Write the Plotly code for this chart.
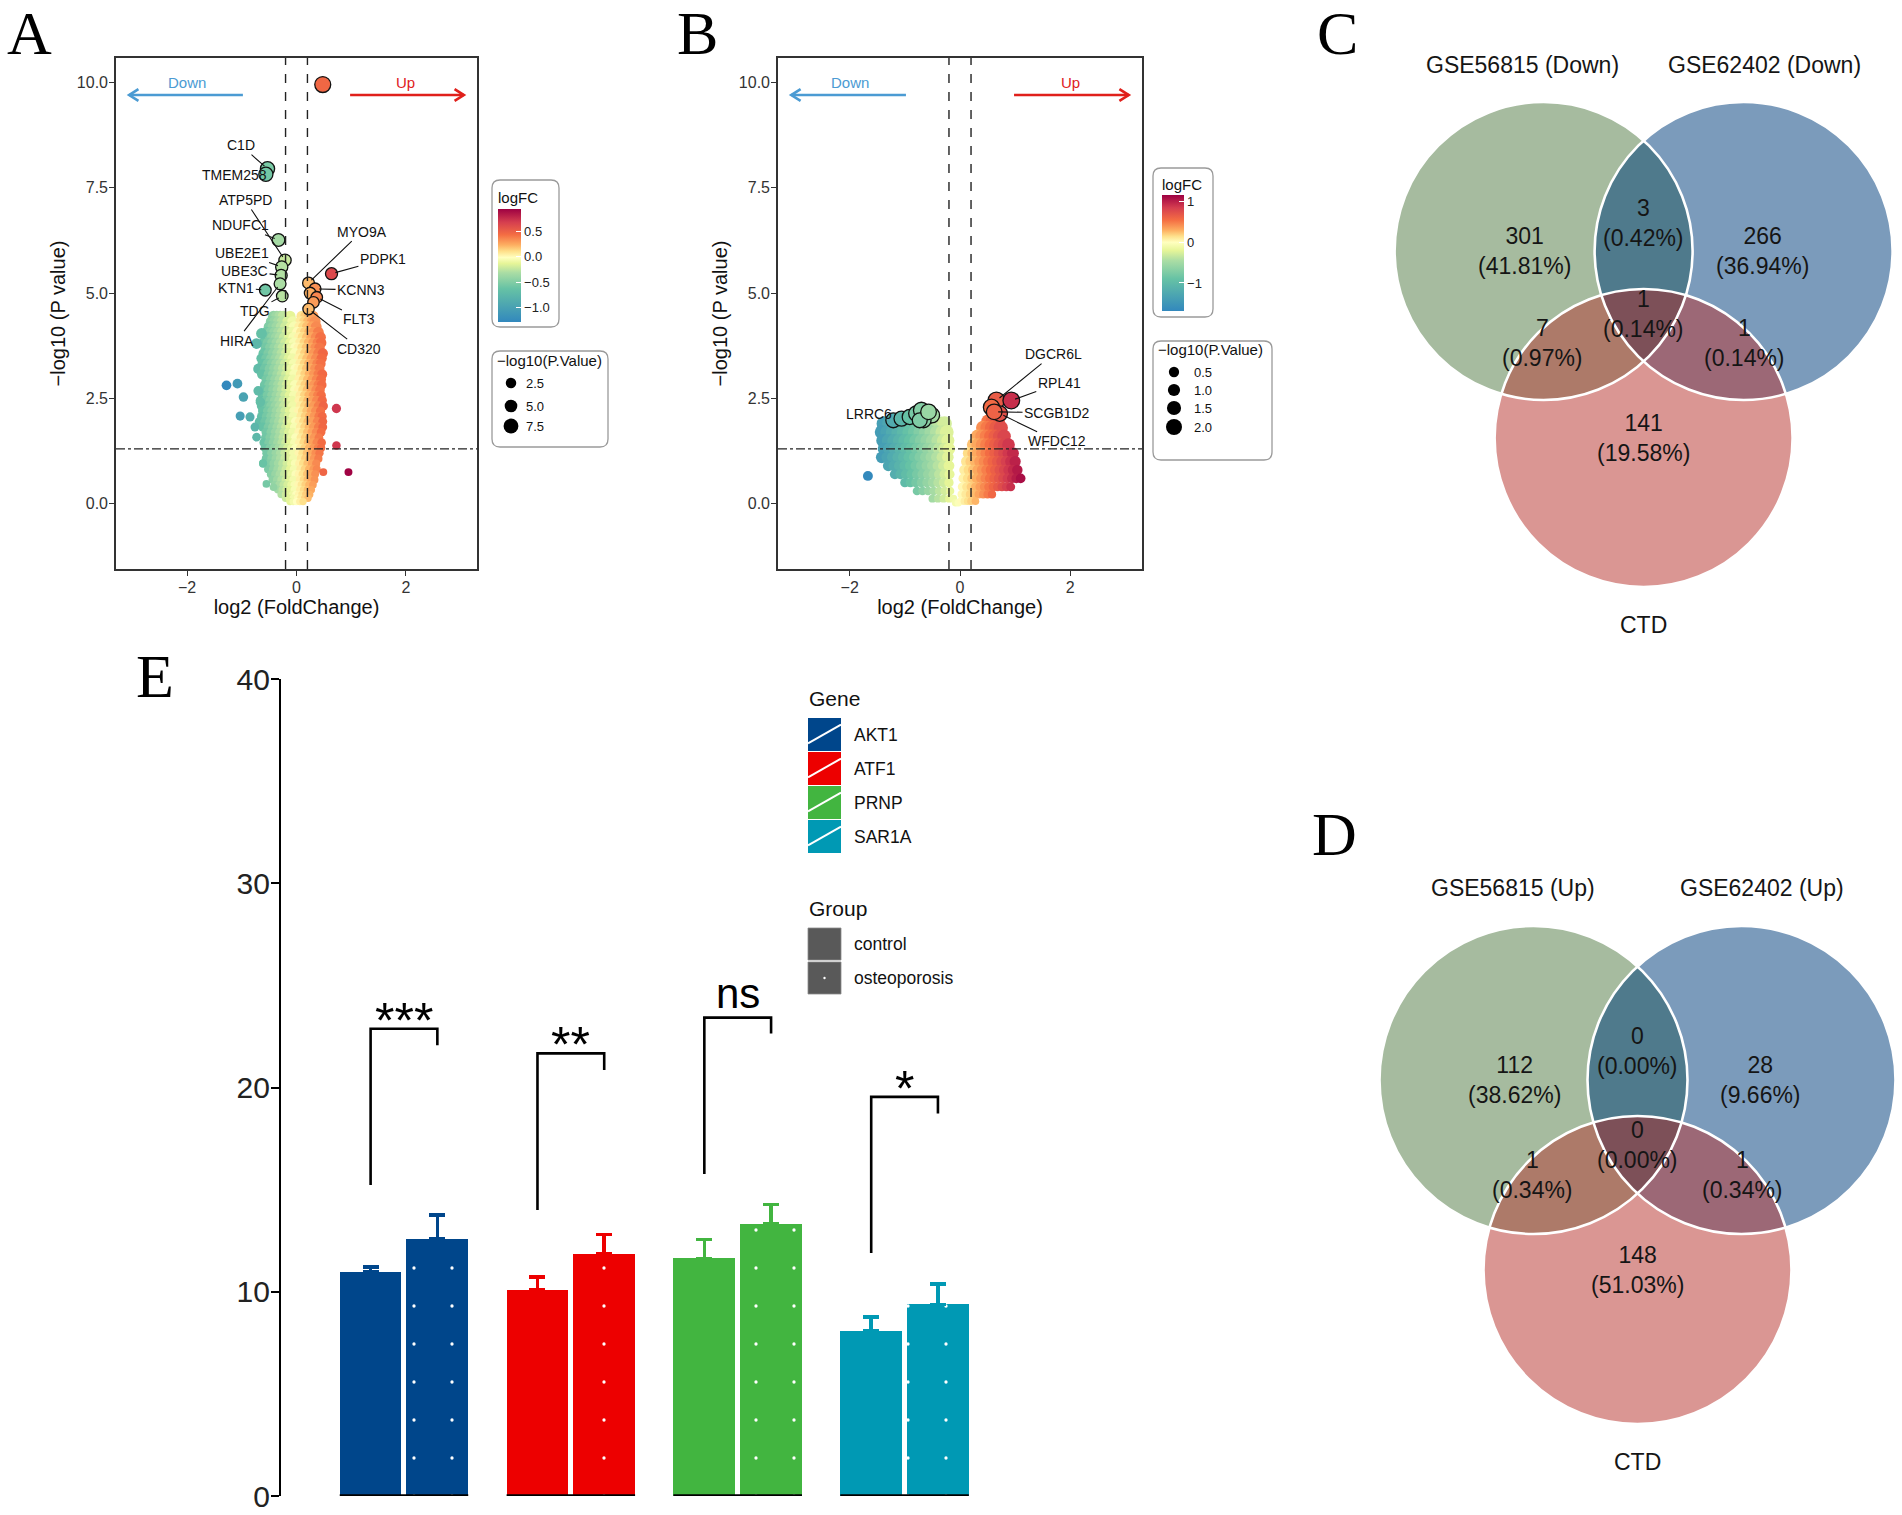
import numpy as np
import plotly.graph_objects as go

W, H = 1902, 1515
FONT = "Liberation Sans, Arial, sans-serif"
SERIF = "Liberation Serif, Times New Roman, serif"

# ======================= DATA =======================
# ---- Panel A volcano (logFC, -log10 P) : background points read row by row ----
a_levels = [4.45, 4.32, 4.2, 4.07, 3.95, 3.82, 3.7, 3.57, 3.45, 3.32, 3.2, 3.07, 2.95, 2.82, 2.7, 2.57,
            2.45, 2.32, 2.2, 2.07, 1.95, 1.82, 1.7, 1.57, 1.45, 1.32, 1.2, 1.07, 0.95, 0.82, 0.7, 0.57,
            0.45, 0.33, 0.22, 0.13, 0.05]
a_level_fc = [
    [-0.42, -0.36, -0.30, -0.24, -0.12, 0.10, 0.17, 0.24, 0.30],
    [-0.46, -0.40, -0.33, -0.26, -0.16, -0.07, 0.08, 0.15, 0.22, 0.29, 0.34],
    [-0.50, -0.43, -0.36, -0.28, -0.20, -0.10, -0.04, 0.06, 0.13, 0.20, 0.28, 0.36],
    [-0.55, -0.47, -0.40, -0.33, -0.26, -0.17, -0.08, 0.02, 0.09, 0.16, 0.24, 0.32, 0.40],
    [-0.52, -0.44, -0.37, -0.30, -0.22, -0.13, -0.05, 0.05, 0.12, 0.20, 0.28, 0.36, 0.44],
    [-0.60, -0.52, -0.44, -0.36, -0.28, -0.20, -0.11, -0.04, 0.07, 0.15, 0.23, 0.31, 0.39, 0.45],
    [-0.56, -0.48, -0.40, -0.32, -0.25, -0.16, -0.08, -0.02, 0.04, 0.11, 0.19, 0.27, 0.35, 0.42],
    [-0.60, -0.51, -0.43, -0.35, -0.27, -0.19, -0.11, -0.03, 0.08, 0.16, 0.24, 0.32, 0.40, 0.48],
    [-0.64, -0.55, -0.46, -0.38, -0.30, -0.22, -0.14, -0.07, 0.05, 0.12, 0.20, 0.28, 0.36, 0.46],
    [-0.62, -0.53, -0.45, -0.37, -0.29, -0.21, -0.13, -0.05, 0.07, 0.15, 0.23, 0.30, 0.38, 0.44],
    [-0.70, -0.58, -0.49, -0.41, -0.33, -0.25, -0.17, -0.09, -0.02, 0.04, 0.11, 0.19, 0.26, 0.34, 0.42],
    [-0.63, -0.51, -0.43, -0.35, -0.27, -0.19, -0.11, -0.04, 0.08, 0.16, 0.24, 0.32, 0.40, 0.47],
    [-0.55, -0.47, -0.39, -0.31, -0.23, -0.15, -0.07, 0.05, 0.13, 0.21, 0.29, 0.37, 0.45],
    [-0.58, -0.50, -0.42, -0.34, -0.26, -0.18, -0.10, -0.03, 0.08, 0.16, 0.24, 0.32, 0.40, 0.46],
    [-0.60, -0.51, -0.43, -0.35, -0.27, -0.19, -0.11, -0.03, 0.04, 0.12, 0.20, 0.28, 0.36, 0.43],
    [-0.62, -0.53, -0.45, -0.37, -0.29, -0.21, -0.13, -0.05, 0.07, 0.15, 0.23, 0.31, 0.39, 0.45],
    [-0.66, -0.56, -0.48, -0.40, -0.32, -0.24, -0.16, -0.08, 0.05, 0.13, 0.21, 0.29, 0.37, 0.47],
    [-0.64, -0.55, -0.47, -0.39, -0.31, -0.23, -0.15, -0.07, 0.07, 0.15, 0.23, 0.31, 0.40, 0.49],
    [-0.62, -0.53, -0.45, -0.37, -0.29, -0.21, -0.13, -0.05, 0.04, 0.11, 0.19, 0.27, 0.35, 0.44],
    [-0.64, -0.55, -0.47, -0.39, -0.31, -0.23, -0.15, -0.06, 0.08, 0.16, 0.24, 0.32, 0.41, 0.47],
    [-0.68, -0.58, -0.49, -0.41, -0.33, -0.25, -0.17, -0.09, -0.02, 0.05, 0.13, 0.21, 0.29, 0.38, 0.48],
    [-0.62, -0.52, -0.44, -0.36, -0.28, -0.20, -0.12, -0.04, 0.07, 0.15, 0.23, 0.31, 0.40, 0.48],
    [-0.56, -0.47, -0.39, -0.31, -0.23, -0.15, -0.07, 0.04, 0.12, 0.20, 0.28, 0.36, 0.45],
    [-0.57, -0.49, -0.41, -0.33, -0.25, -0.17, -0.09, -0.02, 0.08, 0.16, 0.24, 0.32, 0.41],
    [-0.60, -0.51, -0.43, -0.35, -0.27, -0.20, -0.12, -0.04, 0.05, 0.13, 0.21, 0.29, 0.37, 0.46],
    [-0.58, -0.49, -0.41, -0.33, -0.25, -0.17, -0.09, -0.02, 0.07, 0.15, 0.23, 0.31, 0.39, 0.45],
    [-0.55, -0.46, -0.38, -0.30, -0.22, -0.14, -0.06, 0.04, 0.11, 0.19, 0.27, 0.35, 0.42],
    [-0.56, -0.46, -0.38, -0.30, -0.22, -0.14, -0.06, 0.08, 0.16, 0.24, 0.32, 0.40],
    [-0.61, -0.50, -0.42, -0.34, -0.26, -0.18, -0.10, -0.03, 0.05, 0.12, 0.20, 0.28, 0.36],
    [-0.52, -0.43, -0.35, -0.27, -0.20, -0.12, -0.05, 0.07, 0.15, 0.23, 0.31, 0.37],
    [-0.47, -0.39, -0.31, -0.23, -0.16, -0.09, -0.02, 0.04, 0.11, 0.19, 0.27, 0.34],
    [-0.44, -0.36, -0.28, -0.20, -0.13, -0.06, 0.06, 0.13, 0.20, 0.27, 0.33],
    [-0.40, -0.32, -0.24, -0.17, -0.10, -0.04, 0.03, 0.09, 0.16, 0.23, 0.30],
    [-0.34, -0.26, -0.19, -0.12, -0.04, 0.06, 0.13, 0.20, 0.27],
    [-0.28, -0.20, -0.13, -0.07, -0.01, 0.04, 0.10, 0.17, 0.24],
    [-0.20, -0.13, -0.06, 0.02, 0.08, 0.15, 0.21],
    [-0.12, -0.06, 0.00, 0.06, 0.12],
]
a_out_fc = [-1.28, -1.08, -0.97, -0.70, -1.03, -0.85, -0.76, -0.55, -0.42, 0.73, 0.73, 0.95, 0.49, -0.73, -0.66, -0.73, -0.61, -0.64]
a_out_p = [2.81, 2.85, 2.53, 2.68, 2.08, 2.06, 1.82, 0.47, 0.39, 2.26, 1.38, 0.75, 0.75, 3.80, 2.41, 1.58, 0.96, 4.04]
a_hi_gene = ["", "C1D", "TMEM258", "NDUFC1", "ATP5PD", "UBE2E1", "UBE3C", "KTN1", "HIRA", "TDG",
             "PDPK1", "MYO9A", "KCNN3", "", "FLT3", "", "CD320"]
a_hi_fc = [0.48, -0.53, -0.56, -0.33, -0.21, -0.27, -0.28, -0.57, -0.30, -0.26,
           0.64, 0.22, 0.34, 0.25, 0.37, 0.31, 0.22]
a_hi_p = [9.95, 7.95, 7.82, 6.26, 5.78, 5.62, 5.42, 5.07, 5.22, 4.93,
          5.46, 5.24, 5.10, 5.00, 4.90, 4.78, 4.62]

# ---- Panel B volcano ----
b_left_levels = [1.9, 1.7, 1.5, 1.3, 1.1, 0.9, 0.7, 0.5, 0.3, 0.12, 0.02]
b_left_fc = [
    [-1.38, -1.28, -1.18, -1.08, -0.98, -0.88, -0.78, -0.68, -0.58, -0.48, -0.38, -0.28],
    [-1.42, -1.32, -1.22, -1.12, -1.02, -0.92, -0.82, -0.72, -0.62, -0.52, -0.42, -0.32, -0.24],
    [-1.40, -1.30, -1.20, -1.10, -1.00, -0.90, -0.80, -0.70, -0.60, -0.50, -0.40, -0.30, -0.22],
    [-1.38, -1.28, -1.18, -1.08, -0.98, -0.88, -0.78, -0.68, -0.58, -0.48, -0.38, -0.28, -0.20],
    [-1.42, -1.32, -1.22, -1.12, -1.02, -0.92, -0.82, -0.72, -0.62, -0.52, -0.42, -0.32, -0.22],
    [-1.30, -1.20, -1.10, -1.00, -0.90, -0.80, -0.70, -0.60, -0.50, -0.40, -0.30, -0.20],
    [-1.18, -1.08, -0.98, -0.88, -0.78, -0.68, -0.58, -0.48, -0.38, -0.28, -0.19],
    [-1.00, -0.90, -0.80, -0.70, -0.60, -0.50, -0.40, -0.30, -0.20],
    [-0.78, -0.68, -0.58, -0.48, -0.38, -0.28, -0.18],
    [-0.50, -0.40, -0.30, -0.20, -0.12],
    [-0.08, -0.03],
]
b_right_levels = [1.95, 1.8, 1.6, 1.4, 1.2, 1.0, 0.8, 0.6, 0.4, 0.22, 0.06]
b_right_fc = [
    [0.52, 0.60, 0.68],
    [0.42, 0.50, 0.58, 0.66, 0.74],
    [0.32, 0.40, 0.48, 0.56, 0.64, 0.72, 0.80],
    [0.24, 0.32, 0.40, 0.48, 0.56, 0.64, 0.72, 0.80, 0.88],
    [0.16, 0.24, 0.32, 0.40, 0.48, 0.56, 0.64, 0.72, 0.80, 0.88, 0.96],
    [0.12, 0.20, 0.28, 0.36, 0.44, 0.52, 0.60, 0.68, 0.76, 0.84, 0.92, 1.00],
    [0.08, 0.16, 0.24, 0.32, 0.40, 0.48, 0.56, 0.64, 0.72, 0.80, 0.88, 0.96, 1.04],
    [0.06, 0.14, 0.22, 0.30, 0.38, 0.46, 0.54, 0.62, 0.70, 0.78, 0.86, 0.94, 1.02, 1.10],
    [0.04, 0.12, 0.20, 0.28, 0.36, 0.44, 0.52, 0.60, 0.68, 0.76, 0.84, 0.92],
    [0.03, 0.10, 0.18, 0.26, 0.34, 0.42, 0.50, 0.58],
    [0.02, 0.08, 0.14, 0.20, 0.28],
]
b_out_fc = [-1.67]
b_out_p = [0.66]
b_hi_gene = ["LRRC6", "", "", "", "", "", "", "", "", "", "DGCR6L", "RPL41", "", "WFDC12", "SCGB1D2"]
b_hi_fc = [-1.21, -1.06, -0.91, -0.79, -0.70, -0.60, -0.51, -0.66, -0.73, -0.57, 0.66, 0.93, 0.57, 0.72, 0.62]
b_hi_p = [1.98, 2.02, 2.06, 2.14, 2.22, 2.06, 2.10, 1.98, 1.98, 2.18, 2.45, 2.45, 2.29, 2.14, 2.18]

fc_cut = 0.2
p_cut = 0.05

# ---- Venn diagrams (regions: A only, B only, C only, AB, AC, BC, ABC) ----
c_sets = ["GSE56815 (Down)", "GSE62402 (Down)", "CTD"]
c_counts = [301, 266, 141, 3, 7, 1, 1]
d_sets = ["GSE56815 (Up)", "GSE62402 (Up)", "CTD"]
d_counts = [112, 28, 148, 0, 1, 1, 0]

# ---- Panel E bars ----
genes = ["AKT1", "ATF1", "PRNP", "SAR1A"]
groups = ["control", "osteoporosis"]
ctrl_mean = [10.97, 10.10, 11.64, 8.09]
ctrl_err = [0.23, 0.63, 0.92, 0.67]
osteo_mean = [12.59, 11.86, 13.34, 9.38]
osteo_err = [1.16, 0.94, 0.92, 1.00]
sig_labels = ["***", "**", "ns", "*"]
br_left = [15.23, 14.00, 15.77, 11.90]
br_top = [22.88, 21.67, 23.42, 19.54]
br_right = [22.07, 20.86, 22.64, 18.73]

# ======================= LAYOUT HELPERS =======================
def xd(a, b):
    return [a / W, b / W]

def yd(top, bot):
    return [1 - bot / H, 1 - top / H]

def make_cs(cmin, cmax, stops):
    return [[(v - cmin) / (cmax - cmin), c] for v, c in stops]

A_CMIN, A_CMAX = -1.28, 0.96
B_CMIN, B_CMAX = -1.69, 1.165
cs_a = make_cs(A_CMIN, A_CMAX, [(-1.28, "#3288bd"), (-0.62, "#66c2a5"), (-0.30, "#abdda4"), (-0.12, "#e6f598"),
                                (0.0, "#ffffbf"), (0.12, "#fee08b"), (0.25, "#fdae61"), (0.45, "#f46d43"),
                                (0.70, "#d53e4f"), (0.96, "#9e0142")])
cs_b = make_cs(B_CMIN, B_CMAX, [(-1.69, "#3288bd"), (-0.9, "#66c2a5"), (-0.45, "#abdda4"), (-0.2, "#e6f598"),
                                (0.0, "#ffffbf"), (0.15, "#fee08b"), (0.3, "#fdae61"), (0.55, "#f46d43"),
                                (0.85, "#d53e4f"), (1.165, "#9e0142")])

def size_a(p):
    return 7.3 + 0.87 * p

def size_b(p):
    return 7.4 + 3.8 * p

fig = go.Figure()
annotations = []
shapes = []

# ======================= VOLCANO PANELS =======================
def flatten(levels, rows):
    xs, ys = [], []
    for yv, row in zip(levels, rows):
        xs += list(row)
        ys += [yv] * len(row)
    return xs, ys

def volcano(xa, ya, ca, bg_fc, bg_p, hi_fc, hi_p, hi_gene, label_xy, sizefn):
    fig.add_trace(go.Scatter(
        x=bg_fc, y=bg_p, mode="markers", xaxis=xa, yaxis=ya, showlegend=False, hoverinfo="skip",
        marker=dict(color=bg_fc, coloraxis=ca, size=[sizefn(p) for p in bg_p], line=dict(width=0), opacity=1)))
    fig.add_trace(go.Scatter(
        x=hi_fc, y=hi_p, mode="markers", xaxis=xa, yaxis=ya, showlegend=False, hoverinfo="skip",
        marker=dict(color=hi_fc, coloraxis=ca, size=[sizefn(p) for p in hi_p], opacity=1,
                    line=dict(width=1.3, color="#111"))))
    for g, fx, py in zip(hi_gene, hi_fc, hi_p):
        if not g:
            continue
        tx, ty = label_xy[g]
        annotations.append(dict(
            x=fx, y=py, xref=xa, yref=ya, ax=tx, ay=ty, axref=xa, ayref=ya, text=g,
            showarrow=True, arrowhead=0, arrowwidth=1.1, arrowcolor="#111", standoff=4,
            font=dict(family=FONT, size=14, color="#111")))
    for v in (-fc_cut, fc_cut):
        shapes.append(dict(type="line", xref=xa, yref=ya + " domain", x0=v, x1=v, y0=0, y1=1,
                           line=dict(color="#222", width=1.4, dash="dash")))
    pl = -np.log10(p_cut)
    shapes.append(dict(type="line", xref=xa + " domain", yref=ya, x0=0, x1=1, y0=pl, y1=pl,
                       line=dict(color="#222", width=1.4, dash="dashdot")))
    for side, col, txt in ((-1, "#4b9bd3", "Down"), (1, "#e0201b", "Up")):
        x0, x1, yv = 0.98 * side, 3.06 * side, 9.7
        fig.add_trace(go.Scatter(x=[x0, x1], y=[yv, yv], mode="lines", xaxis=xa, yaxis=ya,
                                 line=dict(color=col, width=2.6), showlegend=False, hoverinfo="skip"))
        hx = x1 - side * 0.17
        fig.add_trace(go.Scatter(x=[hx, x1, hx], y=[yv + 0.14, yv, yv - 0.14], mode="lines",
                                 xaxis=xa, yaxis=ya, line=dict(color=col, width=2.6),
                                 showlegend=False, hoverinfo="skip"))
        annotations.append(dict(x=2.0 * side, y=10.0, xref=xa, yref=ya, text=txt, showarrow=False,
                                font=dict(family=FONT, size=15, color=col)))

a_bg_fc, a_bg_p = flatten(a_levels, a_level_fc)
a_bg_fc += a_out_fc
a_bg_p += a_out_p
a_label_xy = {"C1D": (-1.02, 8.51), "TMEM258": (-1.13, 7.81), "ATP5PD": (-0.94, 7.21), "NDUFC1": (-1.02, 6.61),
              "UBE2E1": (-1.00, 5.95), "UBE3C": (-0.95, 5.53), "KTN1": (-1.10, 5.13), "TDG": (-0.76, 4.58),
              "HIRA": (-1.09, 3.87), "MYO9A": (1.19, 6.46), "PDPK1": (1.58, 5.80), "KCNN3": (1.18, 5.07),
              "FLT3": (1.15, 4.39), "CD320": (1.15, 3.68)}
volcano("x", "y", "coloraxis", a_bg_fc, a_bg_p, a_hi_fc, a_hi_p, a_hi_gene, a_label_xy, size_a)

bl_fc, bl_p = flatten(b_left_levels, b_left_fc)
br_fc, br_p = flatten(b_right_levels, b_right_fc)
b_bg_fc = bl_fc + br_fc + b_out_fc
b_bg_p = bl_p + br_p + b_out_p
b_label_xy = {"LRRC6": (-1.65, 2.14), "DGCR6L": (1.69, 3.55), "RPL41": (1.80, 2.86),
              "SCGB1D2": (1.76, 2.16), "WFDC12": (1.75, 1.48)}
volcano("x2", "y2", "coloraxis2", b_bg_fc, b_bg_p, b_hi_fc, b_hi_p, b_hi_gene, b_label_xy, size_b)

vol_x = dict(range=[-3.3, 3.3], tickvals=[-2, 0, 2], ticktext=["\u22122", "0", "2"],
             showgrid=False, zeroline=False, showline=True, mirror=True, linecolor="#333", linewidth=1.6,
             ticks="outside", ticklen=5, tickwidth=1.3, tickcolor="#333", automargin=False,
             ticklabelstandoff=-2,
             tickfont=dict(family=FONT, size=16, color="#333"),
             title=dict(text="log2 (FoldChange)", font=dict(family=FONT, size=20, color="#111"), standoff=2),
             fixedrange=True)
vol_y = dict(range=[-1.55, 10.58], tickvals=[0, 2.5, 5, 7.5, 10], ticktext=["0.0", "2.5", "5.0", "7.5", "10.0"],
             showgrid=False, zeroline=False, showline=True, mirror=True, linecolor="#333", linewidth=1.6,
             ticks="outside", ticklen=5, tickwidth=1.3, tickcolor="#333", automargin=False,
             ticklabelstandoff=-2,
             tickfont=dict(family=FONT, size=16, color="#333"),
             title=dict(text="\u2212log10 (P value)", font=dict(family=FONT, size=20, color="#111"), standoff=6),
             fixedrange=True)

# ======================= CANVAS (pixel coords) =======================
def rounded_box(x0, y0, x1, y1, r=8):
    return (f"M {x0+r},{y0} L {x1-r},{y0} Q {x1},{y0} {x1},{y0+r} L {x1},{y1-r} Q {x1},{y1} {x1-r},{y1} "
            f"L {x0+r},{y1} Q {x0},{y1} {x0},{y1-r} L {x0},{y0+r} Q {x0},{y0} {x0+r},{y0} Z")

def canvas_text(x, y, text, size, color="#111", xanchor="center", family=FONT, yanchor="middle"):
    annotations.append(dict(x=x, y=y, xref="x3", yref="y3", text=text, showarrow=False, xanchor=xanchor,
                            yanchor=yanchor, font=dict(family=family, size=size, color=color)))

def volcano_legend(cb_box, sz_box, title_cb, title_sz, circ_x, circ_ys, vals, labels, lab_x, sizefn):
    shapes.append(dict(type="path", xref="x3", yref="y3", path=rounded_box(*cb_box),
                       line=dict(color="#9a9a9a", width=1.3), fillcolor="rgba(0,0,0,0)"))
    shapes.append(dict(type="path", xref="x3", yref="y3", path=rounded_box(*sz_box),
                       line=dict(color="#9a9a9a", width=1.3), fillcolor="rgba(0,0,0,0)"))
    canvas_text(title_cb[0], title_cb[1], "logFC", 15, xanchor="left")
    canvas_text(title_sz[0], title_sz[1], "\u2212log10(P.Value)", 15, xanchor="left")
    fig.add_trace(go.Scatter(x=[circ_x] * len(vals), y=circ_ys, mode="markers", xaxis="x3", yaxis="y3",
                             marker=dict(color="black", size=[sizefn(v) + 1 for v in vals], opacity=1,
                                         line=dict(width=0)),
                             showlegend=False, hoverinfo="skip"))
    for yy, lab in zip(circ_ys, labels):
        canvas_text(lab_x, yy, lab, 13, xanchor="left")

volcano_legend((492, 180, 559, 327), (492, 351, 608, 447), (496, 197), (495, 360),
               511, [383, 406, 426], [2.5, 5.0, 7.5], ["2.5", "5.0", "7.5"], 524, size_a)
volcano_legend((1153, 168, 1213, 317), (1153, 341, 1272, 460), (1160, 184), (1156, 349),
               1174, [372, 390, 408, 427], [0.5, 1.0, 1.5, 2.0], ["0.5", "1.0", "1.5", "2.0"], 1192, size_b)

# ---- Venn diagrams ----
venn_fill = ["#A6BB9F", "#7B9BBB", "#DA9693"]
lens_fill = {(0, 1): "#4F7A8C", (0, 2): "#AD7A69", (1, 2): "#9C6876"}
triple_fill = "#7D5058"

def region_poly(centers, r, idx):
    pts = []
    t = np.linspace(0, 2 * np.pi, 1440, endpoint=False)
    for i in idx:
        cx, cy = centers[i]
        px, py = cx + r * np.cos(t), cy + r * np.sin(t)
        mask = np.ones_like(px, dtype=bool)
        for j in idx:
            if j == i:
                continue
            qx, qy = centers[j]
            mask &= (px - qx) ** 2 + (py - qy) ** 2 <= r * r * (1 + 1e-9)
        pts.append(np.column_stack([px[mask], py[mask]]))
    pts = np.vstack(pts)
    c = pts.mean(axis=0)
    order = np.argsort(np.arctan2(pts[:, 1] - c[1], pts[:, 0] - c[0]))
    pts = pts[order]
    pts = np.vstack([pts, pts[:1]])
    return pts[:, 0], pts[:, 1]

def venn(cx, cy, d, h, r, counts, names):
    centers = [(cx - d, cy), (cx + d, cy), (cx, cy + h)]
    for i in range(3):
        xs, ys = region_poly(centers, r, [i])
        fig.add_trace(go.Scatter(x=xs, y=ys, mode="lines", fill="toself", fillcolor=venn_fill[i],
                                 line=dict(width=0, color=venn_fill[i]), xaxis="x3", yaxis="y3",
                                 showlegend=False, hoverinfo="skip"))
    for (i, j), col in lens_fill.items():
        xs, ys = region_poly(centers, r, [i, j])
        fig.add_trace(go.Scatter(x=xs, y=ys, mode="lines", fill="toself", fillcolor=col,
                                 line=dict(width=0, color=col), xaxis="x3", yaxis="y3",
                                 showlegend=False, hoverinfo="skip"))
    xs, ys = region_poly(centers, r, [0, 1, 2])
    fig.add_trace(go.Scatter(x=xs, y=ys, mode="lines", fill="toself", fillcolor=triple_fill,
                             line=dict(width=0, color=triple_fill), xaxis="x3", yaxis="y3",
                             showlegend=False, hoverinfo="skip"))
    for (px, py) in centers:
        shapes.append(dict(type="circle", xref="x3", yref="y3", x0=px - r, x1=px + r, y0=py - r, y1=py + r,
                           line=dict(color="white", width=2.6), fillcolor="rgba(0,0,0,0)", layer="above"))
    total = sum(counts)
    pos = [(cx - 0.80 * r, cy), (cx + 0.80 * r, cy), (cx, cy + h), (cx, cy - 0.19 * r),
           (cx - 0.68 * r, cy + 0.62 * r), (cx + 0.68 * r, cy + 0.62 * r), (cx, cy + 0.42 * r)]
    for n, (px, py) in zip(counts, pos):
        canvas_text(px, py, f"{n}<br>({100 * n / total:.2f}%)", 23, color="#151515")
    canvas_text(cx - 0.81 * r, cy - 1.25 * r, names[0], 23, color="#151515")
    canvas_text(cx + 0.81 * r, cy - 1.25 * r, names[1], 23, color="#151515")
    canvas_text(cx, cy + h + r + 38, names[2], 23, color="#151515")

venn(1643.6, 251, 100, 187, 149, c_counts, c_sets)
venn(1637.5, 1080, 104, 190, 154, d_counts, d_sets)

# ======================= PANEL E =======================
gene_colors = ["#00468B", "#ED0000", "#42B540", "#0099B4"]
bar_w, off = 0.37, 0.2
for i, g in enumerate(genes):
    col = gene_colors[i]
    fig.add_trace(go.Bar(
        x=[i - off], y=[ctrl_mean[i]], width=bar_w, xaxis="x4", yaxis="y4", showlegend=False, hoverinfo="skip",
        marker=dict(color=col, line=dict(width=0)),
        error_y=dict(type="data", symmetric=False, array=[ctrl_err[i]], arrayminus=[0],
                     color=col, thickness=3.5, width=8)))
    fig.add_trace(go.Bar(
        x=[i + off], y=[osteo_mean[i]], width=bar_w, xaxis="x4", yaxis="y4", showlegend=False, hoverinfo="skip",
        marker=dict(color=col, line=dict(width=0),
                    pattern=dict(shape=".", fgcolor="white", bgcolor=col, size=38, solidity=0.006,
                                 fillmode="replace")),
        error_y=dict(type="data", symmetric=False, array=[osteo_err[i]], arrayminus=[0],
                     color=col, thickness=3.5, width=8)))
    fig.add_trace(go.Scatter(
        x=[i - off, i - off, i + off, i + off], y=[br_left[i], br_top[i], br_top[i], br_right[i]],
        mode="lines", line=dict(color="black", width=2.6), xaxis="x4", yaxis="y4",
        showlegend=False, hoverinfo="skip"))
    lab = sig_labels[i]
    annotations.append(dict(x=i, y=br_top[i], xref="x4", yref="y4", text=lab, showarrow=False,
                            yanchor="bottom", yshift=(-1 if lab == "ns" else -22),
                            font=dict(family=FONT, size=(42 if lab == "ns" else 50), color="black")))
    shapes.append(dict(type="line", xref="x4", yref="y4", x0=i - off - bar_w / 2, x1=i + off + bar_w / 2,
                       y0=0, y1=0, line=dict(color="black", width=3.5), layer="above"))

# legend for panel E
canvas_text(807, 698, "Gene", 21, xanchor="left")
key_x0, key_x1 = 808, 841
for k, g in enumerate(genes):
    y0 = 718 + 34 * k
    y1 = y0 + 33
    shapes.append(dict(type="rect", xref="x3", yref="y3", x0=key_x0, x1=key_x1, y0=y0, y1=y1,
                       fillcolor=gene_colors[k], line=dict(width=0)))
    shapes.append(dict(type="line", xref="x3", yref="y3", x0=key_x0, x1=key_x1,
                       y0=y0 + 0.77 * 33, y1=y0 + 0.2 * 33, line=dict(color="white", width=2)))
    canvas_text(852, y0 + 17, g, 17.5, xanchor="left")
canvas_text(807, 908, "Group", 21, xanchor="left")
for k, g in enumerate(groups):
    y0 = 928 + 34 * k
    shapes.append(dict(type="rect", xref="x3", yref="y3", x0=key_x0, x1=key_x1, y0=y0, y1=y0 + 32,
                       fillcolor="#595959", line=dict(color="#8a8a8a", width=0.8)))
    if k == 1:
        shapes.append(dict(type="circle", xref="x3", yref="y3", x0=823.3, x1=825.7, y0=y0 + 14.8,
                           y1=y0 + 17.2, fillcolor="white", line=dict(width=0)))
    canvas_text(852, y0 + 16, g, 17.5, xanchor="left")

for letter, (lx, ly) in {"A": (29, 33), "B": (697, 33), "C": (1337, 33), "D": (1334, 834), "E": (155, 676)}.items():
    canvas_text(lx, ly, letter, 62, color="black", family=SERIF)

# ======================= LAYOUT =======================
fig.update_layout(
    width=W, height=H, autosize=False, margin=dict(l=0, r=0, t=0, b=0, pad=0, autoexpand=False),
    paper_bgcolor="white", plot_bgcolor="rgba(0,0,0,0)", hovermode=False,
    font=dict(family=FONT, color="#111"), barmode="overlay", bargap=0,
    xaxis=dict(vol_x, domain=xd(116, 477), anchor="y"),
    yaxis=dict(vol_y, domain=yd(58, 569), anchor="x"),
    xaxis2=dict(vol_x, domain=xd(778, 1142), anchor="y2"),
    yaxis2=dict(vol_y, domain=yd(58, 569), anchor="x2"),
    xaxis3=dict(domain=[0, 1], range=[0, W], visible=False, fixedrange=True, anchor="y3", automargin=False),
    yaxis3=dict(domain=[0, 1], range=[H, 0], visible=False, fixedrange=True, anchor="x3", automargin=False),
    xaxis4=dict(domain=xd(281, 988), range=[-0.737, 3.5], visible=False, fixedrange=True, anchor="y4",
                automargin=False),
    yaxis4=dict(domain=yd(679, 1496), range=[0, 40], anchor="x4", showgrid=False, zeroline=False,
                showline=True, linecolor="black", linewidth=2.2, ticks="outside", ticklen=8, tickwidth=2,
                tickcolor="black", tickvals=[0, 10, 20, 30, 40], automargin=False, ticklabelstandoff=-5,
                tickfont=dict(family=FONT, size=30, color="#222"), fixedrange=True),
    coloraxis=dict(cmin=A_CMIN, cmax=A_CMAX, colorscale=cs_a,
                   colorbar=dict(x=498 / W, xanchor="left", y=1 - 265 / H, yanchor="middle",
                                 len=113, lenmode="pixels", thickness=23, thicknessmode="pixels",
                                 outlinewidth=0, xpad=0, ypad=0, tickvals=[-1, -0.5, 0, 0.5],
                                 ticktext=["\u22121.0", "\u22120.5", "0.0", "0.5"], ticks="inside",
                                 tickcolor="white", ticklen=5, tickfont=dict(family=FONT, size=13, color="#222"))),
    coloraxis2=dict(cmin=B_CMIN, cmax=B_CMAX, colorscale=cs_b,
                    colorbar=dict(x=1162 / W, xanchor="left", y=1 - 253 / H, yanchor="middle",
                                  len=116, lenmode="pixels", thickness=22, thicknessmode="pixels",
                                  outlinewidth=0, xpad=0, ypad=0, tickvals=[-1, 0, 1],
                                  ticktext=["\u22121", "0", "1"], ticks="inside",
                                  tickcolor="white", ticklen=5, tickfont=dict(family=FONT, size=13, color="#222"))),
    annotations=annotations, shapes=shapes,
)

fig.write_html("out.html", config={"displayModeBar": False},
               post_script="document.body.style.margin='0px';document.body.style.overflow='hidden';")
